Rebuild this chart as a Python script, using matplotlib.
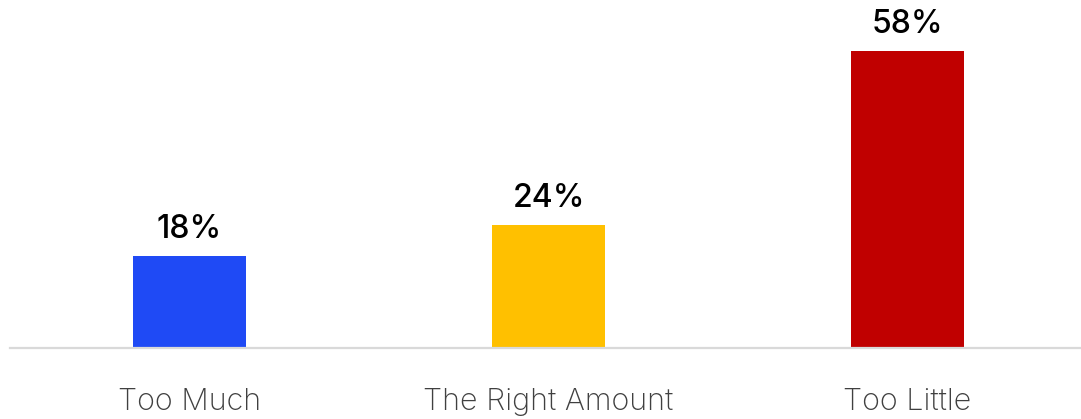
import matplotlib
matplotlib.use("Agg")
import matplotlib.pyplot as plt

categories = ["Too Much", "The Right Amount", "Too Little"]
values = [18, 24, 58]
labels = ["18%", "24%", "58%"]
colors = ["#1F4AF5", "#FFC000", "#C00000"]

fig = plt.figure(figsize=(10.81, 4.19), dpi=100)
H = 419.0
base_y = 347.7
ax = fig.add_axes([10 / 1081, (H - base_y) / H, 1071 / 1081, base_y / H])
x = list(range(len(categories)))
ax.bar(x, values, width=0.315, color=colors, zorder=2)
ax.set_xlim(-0.5, 2.483)
ax.set_ylim(0, base_y / (296.7 / 58))

for xi, v, lab in zip(x, values, labels):
    ax.annotate(lab, (xi, v), xytext=(0, 8), textcoords="offset points",
                ha="center", va="bottom", fontsize=23, fontfamily="Inter",
                fontweight="medium", color="black")

for s in ["top", "right", "left"]:
    ax.spines[s].set_visible(False)
ax.spines["bottom"].set_color("#D9D9D9")
ax.spines["bottom"].set_linewidth(1.6)
ax.set_yticks([])
ax.set_xticks(x)
ax.set_xticklabels(categories, fontsize=22, fontfamily="Inter", fontweight="light", color="#404040")
ax.tick_params(axis="x", length=0, pad=29)

fig.savefig("out.png", dpi=100)
